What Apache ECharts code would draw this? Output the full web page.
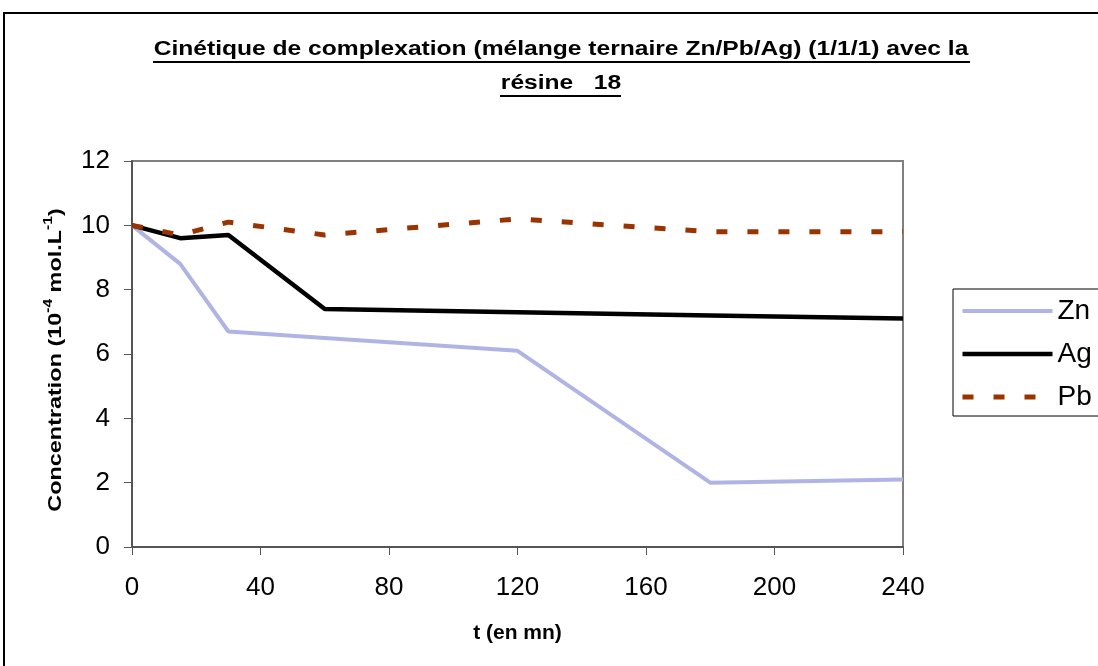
<!DOCTYPE html>
<html>
<head>
<meta charset="utf-8">
<script src="https://cdn.jsdelivr.net/npm/echarts@6/dist/echarts.min.js"></script>
<style>
  html, body { margin: 0; padding: 0; background: #fff; }
  #main { width: 1098px; height: 666px; }
</style>
</head>
<body>
<div id="main"></div>
<script>
// temps (mn)
var times = [0, 15, 30, 60, 120, 180, 240];
// concentrations (10^-4 mol/L)
var zn = [10, 8.8, 6.7, 6.5, 6.1, 2.0, 2.1];
var ag = [10, 9.6, 9.7, 7.4, 7.3, 7.2, 7.1];
var pb = [10, 9.7, 10.1, 9.7, 10.2, 9.8, 9.8];
var xTicks = [0, 40, 80, 120, 160, 200, 240];
var yTicks = [0, 2, 4, 6, 8, 10, 12];

function pairs(ys) {
    return times.map(function (t, i) { return [t, ys[i]]; });
}

var chart = echarts.init(document.getElementById('main'));
var font = 'Arial, "Liberation Sans", sans-serif';

chart.setOption({
    animation: false,
    backgroundColor: '#fff',
    graphic: [
        // cadre extérieur
        { type: 'rect', shape: { x: 4, y: 13, width: 1200, height: 700 },
          style: { fill: null, stroke: '#000', lineWidth: 2 } },
        // titre souligné
        { type: 'text', x: 561, y: 39, scaleX: 1.23,
          style: { text: 'Cinétique de complexation (mélange ternaire Zn/Pb/Ag) (1/1/1) avec la',
                   font: 'bold 20px ' + font, fill: '#000', textAlign: 'center' } },
        { type: 'text', x: 561, y: 73, scaleX: 1.23,
          style: { text: 'résine   18', font: 'bold 20px ' + font, fill: '#000', textAlign: 'center' } },
        { type: 'line', shape: { x1: 153, y1: 62, x2: 970, y2: 62 },
          style: { stroke: '#000', lineWidth: 2 } },
        { type: 'line', shape: { x1: 500, y1: 96, x2: 621, y2: 96 },
          style: { stroke: '#000', lineWidth: 2 } },
        // titre de l'axe Y
        { type: 'text', x: 54, y: 360, rotation: Math.PI / 2, scaleX: 1.3,
          style: {
              text: '{a|Concentration (10}{s|-4}{a| mol.L}{s|-1}{a|)}',
              textAlign: 'center', textVerticalAlign: 'middle',
              rich: {
                  a: { font: 'bold 18px ' + font, fill: '#000', lineHeight: 22, verticalAlign: 'bottom' },
                  s: { font: 'bold 12px ' + font, fill: '#000', lineHeight: 22, verticalAlign: 'top' }
              }
          } }
    ],
    grid: {
        left: 132, top: 161, right: 195, bottom: 119,
        show: true, borderColor: '#808080', borderWidth: 2
    },
    legend: {
        orient: 'vertical',
        left: 953, top: 289,
        padding: [8, 40, 5, 7],
        borderColor: '#000', borderWidth: 1,
        itemWidth: 90, itemHeight: 28, itemGap: 15,
        itemStyle: { opacity: 0 },
        lineStyle: { width: 'inherit' },
        textStyle: { fontSize: 28, fontFamily: font, color: '#000' },
        data: ['Zn', 'Ag', 'Pb']
    },
    xAxis: {
        type: 'value', min: 0, max: 240, interval: 40,
        name: 't (en mn)', nameLocation: 'middle', nameGap: 76,
        nameTextStyle: { fontSize: 21, fontWeight: 'bold', fontFamily: font, color: '#000' },
        axisLine: { lineStyle: { color: '#555', width: 2 } },
        axisTick: { length: 8, lineStyle: { color: '#555' } },
        axisLabel: { fontSize: 26, fontFamily: font, color: '#000', margin: 28,
                     customValues: xTicks },
        splitLine: { show: false }
    },
    yAxis: {
        type: 'value', min: 0, max: 12, interval: 2,
        axisLine: { show: true, lineStyle: { color: '#555', width: 2 } },
        axisTick: { show: true, length: 8, lineStyle: { color: '#555' } },
        axisLabel: { fontSize: 26, fontFamily: font, color: '#000', margin: 22,
                     customValues: yTicks },
        splitLine: { show: false }
    },
    series: [
        { name: 'Zn', type: 'line', data: pairs(zn), symbol: 'none',
          lineStyle: { color: '#b0b4e4', width: 4 }, itemStyle: { color: '#b0b4e4' } },
        { name: 'Ag', type: 'line', data: pairs(ag), symbol: 'none',
          lineStyle: { color: '#000', width: 4.5 }, itemStyle: { color: '#000' } },
        { name: 'Pb', type: 'line', data: pairs(pb), symbol: 'none',
          lineStyle: { color: '#993300', width: 5, type: [11, 20] }, itemStyle: { color: '#993300' } }
    ]
});
</script>
</body>
</html>
